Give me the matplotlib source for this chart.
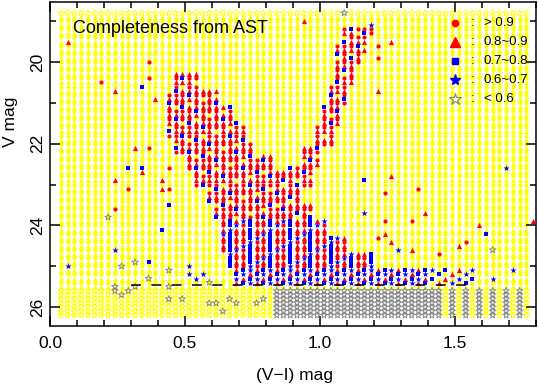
import numpy as np
import matplotlib
matplotlib.use('Agg')
import matplotlib.pyplot as plt
from matplotlib.ticker import MultipleLocator

plt.rcParams['font.family'] = ['Liberation Sans', 'DejaVu Sans']

# Siatka sztucznych gwiazd (AST): kolumny w (V-I), wiersze w V
grid_x0, grid_dx, grid_nx = 0.04, 0.025, 70
grid_v0, grid_dv, grid_nv = 18.8, 0.1, 75

# Pasy kompletnosci: V_od, V_do, x_od, x_do, rodzaj
band_vlo = [20.25, 20.65, 21.05, 21.45, 21.85, 22.25, 22.65, 23.05, 23.45,
            23.85, 24.25, 24.65, 25.05, 25.05, 25.55,
            19.15, 19.55, 20.05, 20.55, 21.05, 21.55, 22.05, 22.55]
band_vhi = [20.65, 21.05, 21.45, 21.85, 22.25, 22.65, 23.05, 23.45, 23.85,
            24.25, 24.65, 25.05, 25.5, 25.5, 26.25,
            19.55, 20.05, 20.55, 21.05, 21.55, 22.05, 22.55, 23.05]
band_xlo = [0.45, 0.43, 0.42, 0.43, 0.46, 0.50, 0.53, 0.57, 0.60,
            0.62, 0.64, 0.66, 0.68, 1.40, 0.83,
            1.07, 1.06, 1.05, 1.02, 1.00, 0.97, 0.93, 0.87]
band_xhi = [0.55, 0.62, 0.68, 0.72, 0.76, 0.82, 0.87, 0.92, 0.97,
            1.02, 1.10, 1.20, 1.40, 1.58, 1.75,
            1.18, 1.16, 1.13, 1.10, 1.07, 1.04, 1.01, 0.98]
band_kind = ['red'] * 9 + ['mix'] * 3 + ['blue', 'sparse', 'gray'] + ['red'] * 8

# Pojedyncze punkty poza pasami
circ_x = [0.19, 0.365, 0.365, 1.19, 1.19, 1.215, 1.215, 1.24, 1.365, 1.34,
          1.24, 1.215, 1.54, 1.44, 0.365, 0.29, 0.24, 0.44, 0.44]
circ_v = [20.5, 20.0, 20.4, 19.2, 19.3, 19.6, 19.9, 23.2, 23.1, 23.9,
          23.9, 24.3, 24.4, 24.7, 22.1, 23.1, 23.6, 23.1, 22.6]
tri_x = [0.065, 0.24, 0.39, 0.94, 1.165, 1.215, 1.265, 1.265, 1.39, 1.79,
         1.59, 1.515, 1.24, 1.265, 1.34, 0.315, 0.34, 0.24, 0.415, 0.415]
tri_v = [19.5, 20.7, 20.9, 19.0, 19.7, 20.7, 19.5, 22.8, 23.7, 23.9,
         24.0, 24.5, 24.2, 24.4, 24.6, 22.1, 22.7, 22.9, 22.9, 23.1]
sq_x = [0.34, 1.165, 1.615, 0.29, 0.34, 0.415, 0.44, 0.365]
sq_v = [20.6, 22.9, 24.2, 22.6, 22.6, 24.1, 23.5, 24.9]
bst_x = [1.19, 1.69, 1.165, 1.29, 0.24, 0.065, 0.515, 0.515, 0.565, 0.54,
         1.64, 1.715]
bst_v = [19.1, 22.6, 23.7, 24.6, 24.6, 25.0, 25.0, 25.2, 25.2, 25.3,
         25.3, 25.1]
gst_x = [1.09, 1.64, 0.215, 0.24, 0.24, 0.265, 0.29, 0.315, 0.265, 0.315,
         0.365, 0.44, 0.44, 0.44, 0.49, 0.59, 0.615, 0.64, 0.665, 0.69,
         0.765, 0.79, 0.59]
gst_v = [18.8, 24.6, 23.8, 25.5, 25.6, 25.7, 25.6, 25.5, 25.0, 24.9,
         25.3, 25.1, 25.8, 25.5, 25.8, 25.9, 25.9, 26.1, 25.8, 25.9,
         25.9, 25.8, 25.4]

dash_v = 25.47
dash_x = [0.30, 1.57]

legend_labels = ['> 0.9', '0.8~0.9', '0.7~0.8', '0.6~0.7', '< 0.6']

# Klasyfikacja punktow siatki
gx = grid_x0 + grid_dx * np.arange(grid_nx)
gv = grid_v0 + grid_dv * np.arange(grid_nv)
pts = {k: ([], []) for k in ['c', 't', 's', 'b', 'g']}
yel = {k: ([], []) for k in ['o', '^', '*']}
for j, v in enumerate(gv):
    for i, x in enumerate(gx):
        kind = None
        for v0, v1, x0, x1, kd in zip(band_vlo, band_vhi, band_xlo, band_xhi, band_kind):
            if v0 <= v < v1 and x0 <= x <= x1:
                kind = kd
                break
        if kind == 'gray' and x > 1.45 and i % 2 == 1:
            kind = None
        if kind == 'red' and (i + 2 * j) % 9 == 0:
            kind = None
        if kind == 'sparse' and (i + j) % 2 == 1:
            kind = None
        if kind is None:
            if j == 0 or v > 25.55:
                m = '*'
            else:
                m = 'o' if j % 2 == 0 else '^'
            yel[m][0].append(x)
            yel[m][1].append(v)
            continue
        red = 'c' if j % 2 == 0 else 't'
        if kind == 'red':
            k = 's' if (3 * i + j) % 7 == 0 else red
        elif kind == 'mix':
            if (i + j) % 6 == 0:
                k = 'b'
            else:
                k = 's' if i % 3 == 1 else red
        elif kind in ('blue', 'sparse'):
            k = ['s', 'b', 't'][(i + j) % 3]
        else:
            k = 'g'
        pts[k][0].append(x)
        pts[k][1].append(v)

for xs, vs, k in [(circ_x, circ_v, 'c'), (tri_x, tri_v, 't'), (sq_x, sq_v, 's'),
                  (bst_x, bst_v, 'b'), (gst_x, gst_v, 'g')]:
    pts[k][0].extend(xs)
    pts[k][1].extend(vs)

fig = plt.figure(figsize=(5.38, 3.88), dpi=100)
ax = fig.add_axes([0.093, 0.16, 0.903, 0.835])

ax.scatter(yel['o'][0], yel['o'][1], s=9, marker='o', c='#ffff00', lw=0, zorder=1)
ax.scatter(yel['^'][0], yel['^'][1], s=14, marker='^', c='#ffff00', lw=0, zorder=1)
ax.scatter(yel['*'][0], yel['*'][1], s=22, marker='*', facecolors='none',
           edgecolors='#ffff00', lw=0.6, zorder=1)

style = {
    'c': dict(marker='o', s=9, c='#ff0000', lw=0),
    't': dict(marker='^', s=14, c='#ff0000', lw=0),
    's': dict(marker='s', s=8, c='#0000ff', lw=0),
    'b': dict(marker='*', s=22, c='#0000ff', lw=0),
    'g': dict(marker='*', s=24, facecolors='none', edgecolors='#808080', lw=0.6),
}
for k in ['c', 't', 's', 'b', 'g']:
    ax.scatter(pts[k][0], pts[k][1], zorder=3, **style[k])

ax.plot(dash_x, [dash_v, dash_v], color='k', lw=1.1, ls=(0, (6.5, 6.8)), zorder=4)

# Legenda rysowana recznie
leg_y = [0.935, 0.877, 0.818, 0.759, 0.70]
leg_style = [dict(marker='o', ms=4.5, color='#ff0000', ls=''),
             dict(marker='^', ms=6.5, color='#ff0000', ls=''),
             dict(marker='s', ms=4, color='#0000ff', ls=''),
             dict(marker='*', ms=8, color='#0000ff', ls=''),
             dict(marker='*', ms=9, mfc='none', mec='#808080', mew=0.8, ls='')]
for y, st, lab in zip(leg_y, leg_style, legend_labels):
    ax.plot([0.833], [y], transform=ax.transAxes, zorder=5, **st)
    ax.text(0.866, y, ':', transform=ax.transAxes, fontsize=9.5, va='center', zorder=5)
    ax.text(0.893, y, lab, transform=ax.transAxes, fontsize=9.5, va='center', zorder=5)

ax.text(0.047, 0.917, 'Completeness from AST', transform=ax.transAxes,
        fontsize=13, va='center', zorder=5)

ax.set_xlim(0, 1.8)
ax.set_ylim(26.46, 18.53)
ax.xaxis.set_major_locator(MultipleLocator(0.5))
ax.xaxis.set_minor_locator(MultipleLocator(0.1))
ax.yaxis.set_major_locator(MultipleLocator(2))
ax.yaxis.set_minor_locator(MultipleLocator(1))
ax.tick_params(which='both', direction='in', top=True, right=True, width=1.1,
               labelsize=12.5)
ax.tick_params(which='major', length=7)
ax.tick_params(which='minor', length=4)
ax.tick_params(axis='x', pad=7)
plt.setp(ax.get_yticklabels(), rotation=90, va='center')
for sp in ax.spines.values():
    sp.set_linewidth(1.1)

ax.set_xlabel('(V\u2212I) mag', fontsize=12.5)
ax.xaxis.set_label_coords(0.504, -0.13)
ax.set_ylabel('V mag', fontsize=12.5)
ax.yaxis.set_label_coords(-0.066, 0.63)

fig.savefig('out.png', dpi=100)
